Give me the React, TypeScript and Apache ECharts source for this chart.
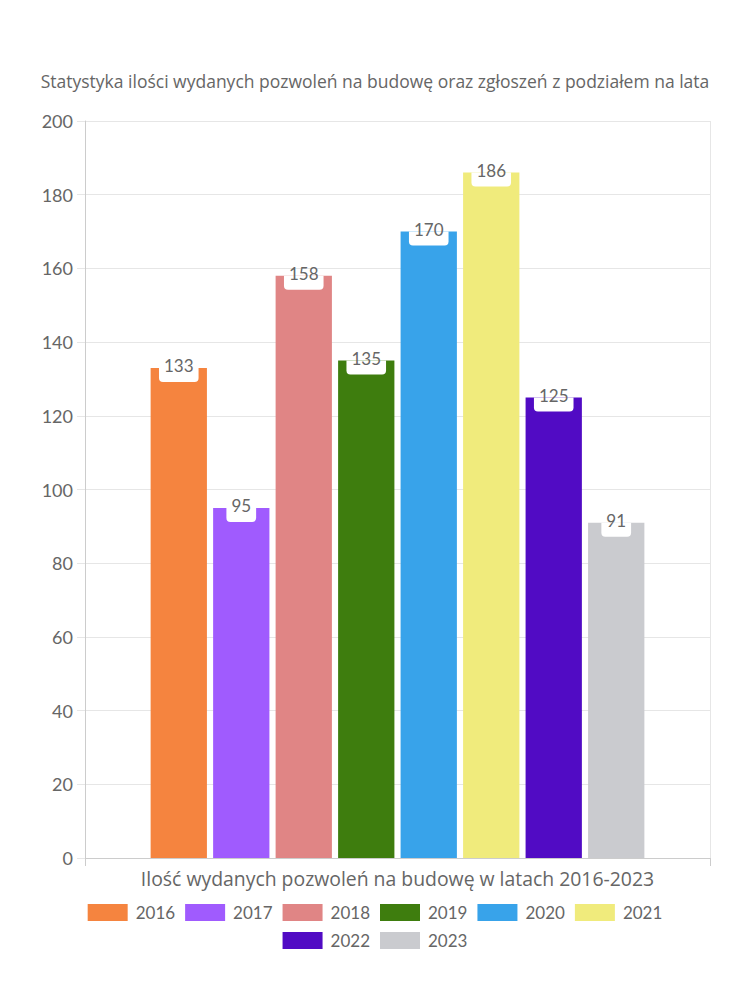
import React, { useEffect, useRef } from "react";
import * as echarts from "echarts";

const titleText = "Statystyka ilości wydanych pozwoleń na budowę oraz zgłoszeń z podziałem na lata";
const categories = ["Ilość wydanych pozwoleń na budowę w latach 2016-2023"];
const years = ["2016", "2017", "2018", "2019", "2020", "2021", "2022", "2023"];
const legendRow1 = years.slice(0, 6);
const legendRow2 = years.slice(6);
const values = [133, 95, 158, 135, 170, 186, 125, 91];
const colors = ["#F5843F", "#A05BFE", "#E08585", "#3E7D0E", "#38A3EA", "#F0EB7C", "#510BC4", "#CACBCF"];

const FONT = "Lato, 'Noto Sans', sans-serif";
const WIDE = "'Open Sans', 'Noto Sans', sans-serif";
const TXT = "#666";

export default function App() {
  const ref = useRef<HTMLDivElement>(null);
  useEffect(() => {
    const chart = echarts.init(ref.current!, null, { renderer: "svg" });
    const legendBase = {
      left: "center",
      itemWidth: 40,
      itemHeight: 17,
      itemGap: 10,
      icon: "rect",
      textStyle: { fontFamily: FONT, fontSize: 17, color: TXT, padding: [0, 0, 0, 3] },
    };
    chart.setOption({
      animation: false,
      backgroundColor: "#fff",
      textStyle: { fontFamily: FONT },
      title: {
        text: titleText,
        left: "center",
        top: 67,
        textStyle: { fontFamily: WIDE, fontSize: 17.5, fontWeight: "normal", color: TXT },
      },
      legend: [
        { ...legendBase, top: 899, data: legendRow1 },
        { ...legendBase, top: 927, data: legendRow2 },
      ],
      grid: { left: 85, right: 40, top: 121, bottom: 142, containLabel: false },
      xAxis: {
        type: "category",
        data: categories,
        axisLine: { lineStyle: { color: "#ccc" } },
        axisTick: { show: true, length: 8, lineStyle: { color: "#ccc" } },
        splitLine: { show: true, lineStyle: { color: "#e6e6e6" } },
        axisLabel: { fontFamily: WIDE, fontSize: 19.4, color: TXT, margin: 11 },
      },
      yAxis: {
        type: "value",
        min: 0,
        max: 200,
        interval: 20,
        axisLine: { show: true, lineStyle: { color: "#ccc" } },
        axisTick: { show: true, length: 8, lineStyle: { color: "#e6e6e6" } },
        splitLine: { lineStyle: { color: "#e6e6e6" } },
        axisLabel: { fontFamily: FONT, fontSize: 18, color: TXT, margin: 12 },
      },
      series: years.map((y, i) => ({
        name: y,
        type: "bar",
        barGap: "11%",
        barCategoryGap: "21%",
        itemStyle: { color: colors[i] },
        data: [values[i]],
        label: {
          show: true,
          position: "insideTop",
          distance: 0,
          fontFamily: FONT,
          fontSize: 17,
          color: TXT,
          backgroundColor: "#fff",
          borderRadius: [0, 0, 4, 4],
          lineHeight: 14,
          padding: [-9, 5, 9, 5],
        },
      })),
    });
    return () => chart.dispose();
  }, []);
  return <div ref={ref} style={{ width: 750, height: 1000, margin: -8 }} />;
}
